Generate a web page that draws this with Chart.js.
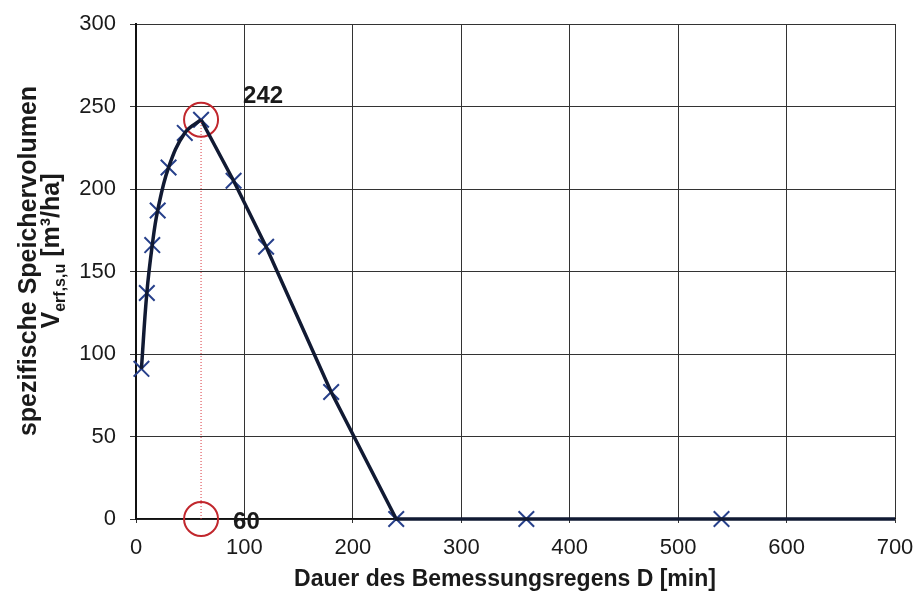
<!DOCTYPE html>
<html>
<head>
<meta charset="utf-8">
<script src="https://cdn.jsdelivr.net/npm/chart.js@4"></script>
<style>
  body { margin: 0; background: #fff; }
  #wrap { width: 917px; height: 609px; }
</style>
</head>
<body>
<div id="wrap"><canvas id="storageChart" width="917" height="609"></canvas></div>
<script>
// === Data ===
const durations = [5, 10, 15, 20, 30, 45, 60, 90, 120, 180, 240, 360, 540, 700];
const volumes = [91, 137, 166, 187, 213, 234, 242, 205, 165, 77, 0, 0, 0, 0];
const markerShown = [1, 1, 1, 1, 1, 1, 1, 1, 1, 1, 1, 1, 1, 0];
const xTicks = [0, 100, 200, 300, 400, 500, 600, 700];
const yTicks = [0, 50, 100, 150, 200, 250, 300];
const peakDuration = 60;
const peakVolume = 242;

const FONT = "'Liberation Sans', Arial, sans-serif";

const curve = durations.map((d, i) => ({ x: d, y: volumes[i] }));
const peakIndex = durations.indexOf(peakDuration);
// Excel smoothed the rising limb, the falling limb is practically straight
const rising = curve.slice(0, peakIndex + 1);
const falling = curve.slice(peakIndex);

// titles and annotations drawn by hand (subscript in y title)
const labelsPlugin = {
  id: "labelsPlugin",
  afterDraw(chart) {
    const ctx = chart.ctx;
    const xs = chart.scales.x;
    const ys = chart.scales.y;
    ctx.save();
    ctx.fillStyle = "#1a1a1a";

    // x axis title
    ctx.font = "bold 23px " + FONT;
    ctx.textAlign = "center";
    ctx.textBaseline = "alphabetic";
    ctx.fillText("Dauer des Bemessungsregens D [min]", 505, 586);

    // y axis title, line 1
    ctx.save();
    ctx.translate(36, 261);
    ctx.rotate(-Math.PI / 2);
    ctx.font = "bold 25px " + FONT;
    ctx.textAlign = "center";
    ctx.fillText("spezifische Speichervolumen", 0, 0);
    ctx.restore();

    // y axis title, line 2 with subscript
    ctx.save();
    ctx.translate(59, 251);
    ctx.rotate(-Math.PI / 2);
    ctx.textAlign = "left";
    const big = "bold 25px " + FONT;
    const small = "bold 16px " + FONT;
    ctx.font = big;
    const wV = ctx.measureText("V").width;
    const wRest = ctx.measureText(" [m³/ha]").width;
    ctx.font = small;
    const wSub = ctx.measureText("erf,s,u").width;
    let pos = -(wV + wSub + wRest) / 2;
    ctx.font = big;
    ctx.fillText("V", pos, 0);
    pos += wV;
    ctx.font = small;
    ctx.fillText("erf,s,u", pos, 6);
    pos += wSub;
    ctx.font = big;
    ctx.fillText(" [m³/ha]", pos, 0);
    ctx.restore();

    // peak annotations
    ctx.font = "bold 24px " + FONT;
    ctx.textAlign = "left";
    ctx.fillText(String(peakVolume), xs.getPixelForValue(peakDuration) + 42, ys.getPixelForValue(peakVolume) - 17);
    ctx.fillText(String(peakDuration), xs.getPixelForValue(peakDuration) + 32, ys.getPixelForValue(0) + 10);
    ctx.restore();
  },
};

new Chart(document.getElementById("storageChart"), {
  type: "scatter",
  data: {
    datasets: [
      {
        // dotted drop line from the peak
        data: [{ x: peakDuration, y: 0 }, { x: peakDuration, y: peakVolume }],
        showLine: true,
        borderColor: "#d9383e",
        borderWidth: 1,
        borderDash: [1, 2],
        pointRadius: 0,
      },
      {
        data: rising,
        showLine: true,
        borderColor: "#111a33",
        borderWidth: 3.5,
        tension: 0.4,
        pointRadius: 0,
        clip: false,
      },
      {
        data: falling,
        showLine: true,
        borderColor: "#111a33",
        borderWidth: 3.5,
        tension: 0,
        pointRadius: 0,
        clip: false,
      },
      {
        // x markers
        data: curve,
        showLine: false,
        pointStyle: "crossRot",
        pointRadius: markerShown.map((m) => (m ? 11 : 0)),
        pointBorderColor: "#27408b",
        pointBorderWidth: 2,
        clip: false,
      },
      {
        // red circles marking the peak
        data: [{ x: peakDuration, y: peakVolume }, { x: peakDuration, y: 0 }],
        showLine: false,
        pointStyle: "circle",
        pointRadius: 17,
        pointBorderColor: "#c1272d",
        pointBackgroundColor: "rgba(0,0,0,0)",
        pointBorderWidth: 2,
        clip: false,
      },
    ],
  },
  options: {
    responsive: false,
    animation: false,
    layout: { padding: { top: 24, right: 22, left: 0, bottom: 0 } },
    plugins: {
      legend: { display: false },
      tooltip: { enabled: false },
    },
    scales: {
      x: {
        type: "linear",
        min: 0,
        max: 700,
        afterBuildTicks: (scale) => {
          scale.ticks = xTicks.map((v) => ({ value: v }));
        },
        afterFit: (scale) => {
          scale.height = 90;
          scale.paddingLeft = 0;
          scale.paddingRight = 0;
        },
        ticks: {
          font: { family: FONT, size: 22 },
          color: "#1a1a1a",
          padding: 12,
          maxRotation: 0,
        },
        grid: { color: "#333", lineWidth: 1, tickLength: 4 },
        border: { color: "#111", width: 1.5 },
      },
      y: {
        type: "linear",
        min: 0,
        max: 300,
        afterBuildTicks: (scale) => {
          scale.ticks = yTicks.map((v) => ({ value: v }));
        },
        afterFit: (scale) => {
          scale.width = 136;
          scale.paddingTop = 0;
          scale.paddingBottom = 0;
        },
        ticks: {
          font: { family: FONT, size: 22 },
          color: "#1a1a1a",
          padding: 14,
        },
        grid: { color: "#333", lineWidth: 1, tickLength: 6 },
        border: { color: "#111", width: 2 },
      },
    },
  },
  plugins: [labelsPlugin],
});
</script>
</body>
</html>
